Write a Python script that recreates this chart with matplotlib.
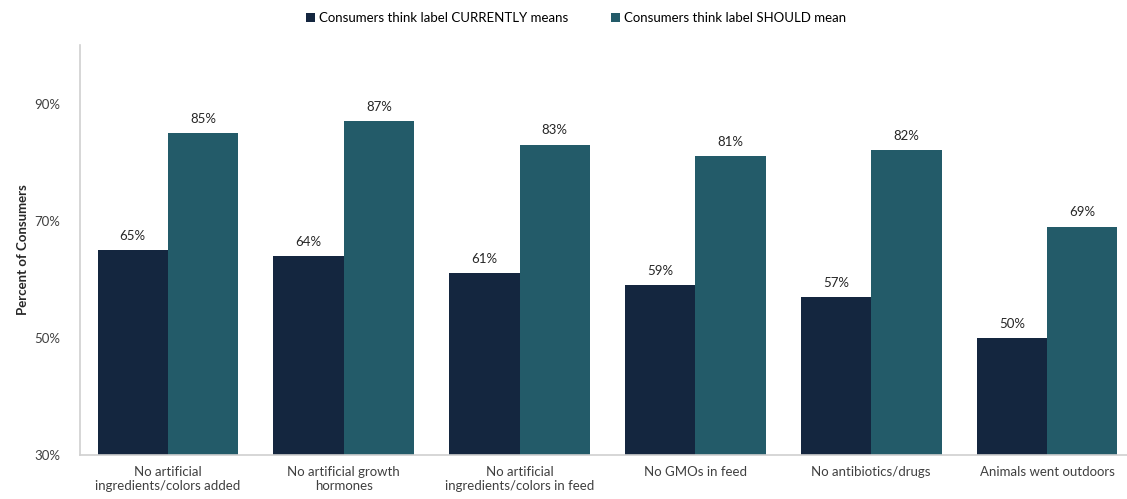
import numpy as np
import matplotlib.pyplot as plt

plt.rcParams['font.family'] = ['Lato', 'DejaVu Sans']

claims = ['No artificial\ningredients/colors added', 'No artificial growth\nhormones',
          'No artificial\ningredients/colors in feed', 'No GMOs in feed',
          'No antibiotics/drugs', 'Animals went outdoors']
currently = [65, 64, 61, 59, 57, 50]
should = [85, 87, 83, 81, 82, 69]

dark = '#14263f'
teal = '#235b69'

fig = plt.figure(figsize=(11.27, 4.99), dpi=100)
ax = fig.add_axes([80 / 1127, 44 / 499, 1055 / 1127, 410 / 499])

ind = np.arange(len(claims))
width = 0.4
b1 = ax.bar(ind - width / 2, currently, width, color=dark,
            label='Consumers think label CURRENTLY means')
b2 = ax.bar(ind + width / 2, should, width, color=teal,
            label='Consumers think label SHOULD mean')

for bars, vals in ((b1, currently), (b2, should)):
    for r, v in zip(bars, vals):
        ax.text(r.get_x() + r.get_width() / 2, v + 1.4, '%d%%' % v,
                ha='center', va='bottom', fontsize=9.5, color='#262626')

ax.set_ylim(30, 100)
ax.set_xlim(-0.5, 5.5)
ax.set_yticks([30, 50, 70, 90])
ax.set_yticklabels(['30%', '50%', '70%', '90%'])
ax.set_xticks(ind)
ax.set_xticklabels(claims)
ax.tick_params(axis='both', length=0, labelsize=9.5, colors='#404040')
ax.tick_params(axis='y', pad=14)
ax.tick_params(axis='x', pad=8)
ax.set_ylabel('Percent of Consumers', fontsize=9.5, fontweight='bold',
              color='#262626', labelpad=4)

for s in ('top', 'right'):
    ax.spines[s].set_visible(False)
for s in ('left', 'bottom'):
    ax.spines[s].set_color('#d0d0d0')
    ax.spines[s].set_linewidth(1.2)

fig.legend(handles=[b1, b2], loc='upper center', bbox_to_anchor=(0.511, 1.0),
           ncol=2, frameon=False, fontsize=9.5, handlelength=0.7,
           handleheight=0.7, columnspacing=3.2, handletextpad=0.3)

fig.savefig('out.png', dpi=100)
